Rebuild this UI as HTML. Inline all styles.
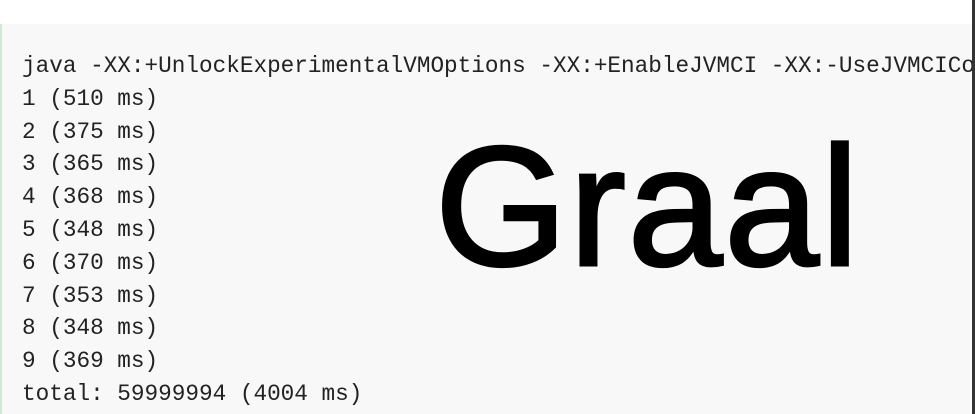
<!DOCTYPE html>
<html><head><style>
html,body{margin:0;padding:0;width:975px;height:414px;overflow:hidden;background:#fff;}
.panel{position:absolute;left:0;top:24px;width:972px;height:390px;background:#f8f8f8;border-left:2px solid #cfe8cf;box-sizing:border-box;}
.bar{position:absolute;left:972px;top:0;width:3px;height:414px;background:#333;}
.code{position:absolute;left:22px;top:50px;font-family:"Liberation Mono",monospace;font-size:22.7px;line-height:32.8px;color:#222;white-space:pre;}
.g{position:absolute;left:435px;top:112px;font-family:"Liberation Sans",sans-serif;font-size:170px;line-height:190px;color:#000;-webkit-text-stroke:3px #000;letter-spacing:2px;}
</style></head><body>
<div class="panel"></div>
<div class="code">java -XX:+UnlockExperimentalVMOptions -XX:+EnableJVMCI -XX:-UseJVMCICo
1 (510 ms)
2 (375 ms)
3 (365 ms)
4 (368 ms)
5 (348 ms)
6 (370 ms)
7 (353 ms)
8 (348 ms)
9 (369 ms)
total: 59999994 (4004 ms)</div>
<div class="g">Graal</div>
<div class="bar"></div>
</body></html>
